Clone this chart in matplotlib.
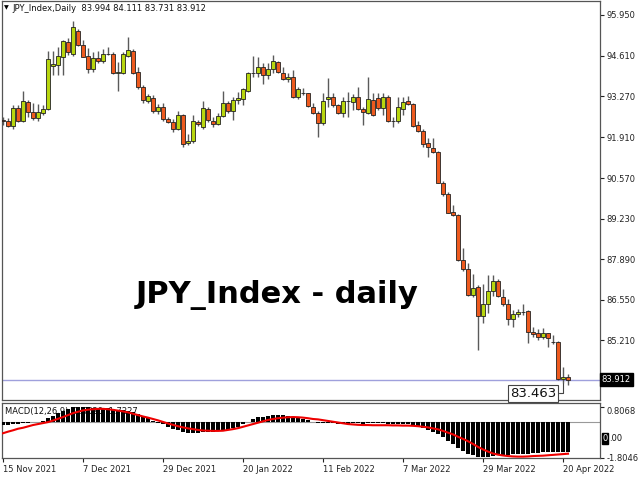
import numpy as np
import pandas as pd
import matplotlib
matplotlib.use("Agg")
from matplotlib import pyplot as plt

# daily OHLC, 15 Nov 2021 .. 21 Apr 2022 (business days)
opens = [92.485, 92.462, 92.287, 92.881, 92.462, 93.079, 92.749, 92.551, 92.716, 92.848,
         94.267, 94.310, 94.574, 95.059, 94.663, 95.432, 94.960, 94.587, 94.168, 94.531,
         94.432, 94.670, 94.663, 94.036, 94.046, 94.607, 94.772, 94.069, 93.564, 93.122,
         93.201, 92.772, 92.904, 92.508, 92.409, 92.178, 92.640, 91.716, 91.802, 92.419,
         92.264, 92.858, 92.462, 92.343, 92.617, 93.056, 92.792, 93.135, 93.188, 93.452,
         94.050, 94.046, 94.224, 93.980, 94.158, 94.389, 94.046, 93.828, 93.894, 93.234,
         93.390, 93.366, 92.924, 92.726, 92.396, 93.168, 93.234, 92.980, 92.726, 93.125,
         93.069, 93.254, 92.838, 92.726, 93.145, 93.201, 92.871, 93.234, 92.465, 92.462,
         92.838, 93.112, 93.013, 92.310, 92.132, 91.716, 91.551, 91.419, 90.416, 90.027,
         89.439, 89.360, 87.849, 87.568, 86.694, 86.964, 86.030, 86.423, 86.835, 87.182,
         86.634, 86.413, 85.928, 86.083, 86.140, 86.192, 85.499, 85.446, 85.314, 85.446,
         85.170, 85.169, 83.928, 83.994]
highs = [92.584, 92.541, 92.980, 92.970, 93.452, 93.145, 93.036, 93.013, 92.970, 94.772,
         94.772, 94.884, 95.125, 95.191, 95.762, 95.478, 95.125, 94.861, 94.739, 94.772,
         94.818, 94.904, 94.739, 94.409, 94.739, 95.224, 94.818, 94.234, 93.640, 93.333,
         93.310, 93.003, 93.056, 92.574, 92.508, 92.792, 92.683, 92.023, 92.650, 92.485,
         93.122, 92.904, 92.574, 92.726, 93.442, 93.122, 93.254, 93.409, 93.541, 94.069,
         94.607, 94.554, 94.356, 94.356, 94.640, 94.442, 94.244, 94.026, 94.135, 93.584,
         93.541, 93.386, 93.056, 92.792, 93.386, 93.861, 93.366, 93.013, 93.254, 93.419,
         93.343, 93.584, 92.924, 93.914, 93.366, 93.386, 93.386, 93.310, 92.594, 93.254,
         93.254, 93.277, 93.036, 92.452, 92.178, 91.881, 91.891, 91.462, 90.482, 90.109,
         89.680, 89.383, 88.251, 87.776, 87.403, 87.024, 87.073, 87.380, 87.360, 87.228,
         86.898, 86.568, 86.215, 86.238, 86.413, 86.215, 85.664, 85.598, 85.611, 85.466,
         85.400, 85.180, 84.344, 84.111]
lows = [92.320, 92.244, 92.188, 92.435, 92.419, 92.574, 92.485, 92.462, 92.660, 92.815,
        93.980, 93.980, 93.980, 94.620, 94.597, 94.937, 94.554, 94.036, 94.079, 94.356,
        94.376, 94.630, 94.003, 93.452, 94.003, 94.574, 94.003, 93.508, 93.036, 93.056,
        92.726, 92.683, 92.462, 92.376, 92.099, 92.155, 91.604, 91.660, 91.736, 92.287,
        92.178, 92.429, 92.264, 92.320, 92.574, 92.706, 92.485, 93.013, 92.980, 93.409,
        93.914, 93.914, 93.673, 93.828, 94.046, 94.026, 93.805, 93.749, 93.201, 93.168,
        93.300, 92.904, 92.683, 91.934, 92.320, 92.924, 92.924, 92.683, 92.574, 92.574,
        92.815, 92.815, 92.320, 92.683, 92.617, 92.815, 92.650, 92.429, 92.264, 92.376,
        92.650, 92.980, 92.264, 92.089, 91.594, 91.264, 91.386, 90.396, 89.977, 89.406,
        89.317, 87.832, 87.512, 86.667, 86.654, 84.895, 85.776, 86.126, 86.677, 86.634,
        86.347, 85.727, 85.664, 85.974, 86.050, 85.136, 85.314, 85.225, 85.248, 84.984,
        85.093, 83.905, 83.816, 83.731]
closes = [92.452, 92.297, 92.881, 92.452, 93.122, 92.749, 92.551, 92.749, 92.848, 94.498,
          94.333, 94.597, 95.092, 94.729, 95.554, 94.960, 94.574, 94.168, 94.531, 94.432,
          94.653, 94.660, 94.020, 94.079, 94.663, 94.795, 94.036, 93.574, 93.135, 93.287,
          92.782, 92.904, 92.508, 92.419, 92.178, 92.640, 91.693, 91.802, 92.462, 92.353,
          92.871, 92.485, 92.343, 92.617, 93.056, 92.792, 93.135, 93.211, 93.498, 94.046,
          94.040, 94.224, 93.960, 94.158, 94.442, 94.059, 93.828, 93.914, 93.234, 93.498,
          93.385, 92.947, 92.726, 92.396, 93.122, 93.234, 92.980, 92.726, 93.122, 93.120,
          93.234, 92.838, 92.759, 93.168, 92.650, 92.871, 93.234, 92.462, 92.460, 92.904,
          93.089, 93.013, 92.303, 92.132, 91.693, 91.584, 91.419, 90.416, 90.027, 89.426,
          89.360, 87.849, 87.568, 86.694, 86.931, 86.030, 86.423, 86.835, 87.182, 86.677,
          86.413, 85.928, 86.083, 86.139, 86.135, 85.499, 85.423, 85.314, 85.446, 85.281,
          85.165, 83.928, 84.014, 83.912]

# MACD(12,26,9): main as histogram, signal as red line
macd_main = [-0.14, -0.14, -0.11, -0.09, -0.04, -0.03, 0.02, 0.04, 0.07, 0.22,
             0.33, 0.46, 0.59, 0.67, 0.77, 0.81, 0.80, 0.77, 0.74, 0.72,
             0.72, 0.71, 0.67, 0.61, 0.61, 0.60, 0.54, 0.43, 0.30, 0.20,
             0.09, -0.01, -0.11, -0.22, -0.32, -0.37, -0.48, -0.53, -0.53, -0.53,
             -0.50, -0.48, -0.48, -0.45, -0.40, -0.37, -0.30, -0.22, -0.11, 0.04,
             0.17, 0.25, 0.28, 0.33, 0.38, 0.38, 0.36, 0.34, 0.28, 0.22,
             0.17, 0.12, 0.04, -0.04, -0.04, -0.04, -0.06, -0.09, -0.09, -0.09,
             -0.06, -0.06, -0.08, -0.06, -0.06, -0.06, -0.05, -0.09, -0.11, -0.11,
             -0.09, -0.09, -0.14, -0.22, -0.30, -0.40, -0.50, -0.62, -0.77, -0.94,
             -1.09, -1.31, -1.48, -1.63, -1.70, -1.76, -1.80, -1.77, -1.73, -1.70,
             -1.69, -1.67, -1.65, -1.62, -1.60, -1.60, -1.59, -1.57, -1.54, -1.52,
             -1.50, -1.53, -1.52, -1.50]
macd_signal = [-0.56, -0.48, -0.41, -0.33, -0.28, -0.21, -0.14, -0.09, -0.04, 0.01,
               0.09, 0.18, 0.27, 0.37, 0.47, 0.54, 0.61, 0.65, 0.67, 0.69,
               0.69, 0.67, 0.64, 0.60, 0.56, 0.51, 0.44, 0.37, 0.30, 0.24,
               0.17, 0.10, 0.02, -0.06, -0.13, -0.20, -0.26, -0.31, -0.35, -0.39,
               -0.42, -0.43, -0.44, -0.44, -0.43, -0.39, -0.35, -0.30, -0.23, -0.16,
               -0.09, -0.02, 0.05, 0.12, 0.17, 0.21, 0.24, 0.26, 0.27, 0.26,
               0.24, 0.21, 0.17, 0.15, 0.11, 0.07, 0.03, -0.01, -0.05, -0.09,
               -0.11, -0.13, -0.14, -0.14, -0.15, -0.15, -0.15, -0.15, -0.16, -0.16,
               -0.17, -0.17, -0.18, -0.20, -0.23, -0.26, -0.31, -0.36, -0.44, -0.53,
               -0.62, -0.74, -0.85, -0.97, -1.11, -1.26, -1.39, -1.50, -1.60, -1.66,
               -1.70, -1.73, -1.75, -1.76, -1.76, -1.75, -1.73, -1.72, -1.71, -1.69,
               -1.67, -1.65, -1.63, -1.61]

price_ticks = [95.950, 94.610, 93.270, 91.910, 90.570, 89.230, 87.890, 86.550, 85.210]
macd_ticks = [0.8068, -1.8046]
date_labels = ["15 Nov 2021", "7 Dec 2021", "29 Dec 2021", "20 Jan 2022",
               "11 Feb 2022", "7 Mar 2022", "29 Mar 2022", "20 Apr 2022"]
last_price = 83.912
note_price = 83.463

UP = "#b8d60e"
DOWN = "#ee5a1e"
SMALL = 6

dates = pd.bdate_range("2021-11-15", periods=len(closes))
idx = np.arange(len(closes))
o = np.array(opens); h = np.array(highs); l = np.array(lows); c = np.array(closes)
up = c >= o

fig = plt.figure(figsize=(6.4, 4.8), dpi=100)
ax = fig.add_axes([2 / 640, 80 / 480, 598 / 640, 399 / 480])
ax2 = fig.add_axes([2 / 640, 22 / 480, 598 / 640, 55 / 480], sharex=ax)

# candles
ax.vlines(idx, l, h, color="#5a5a5a", lw=1, zorder=2)
body_lo = np.minimum(o, c)
body_h = np.maximum(np.abs(c - o), 0.004)
ax.bar(idx, body_h, bottom=body_lo, width=0.62,
       color=np.where(up, UP, DOWN), edgecolor="#222222", linewidth=0.6, zorder=3)

ax.axhline(last_price, color="#9fa0dc", lw=1, zorder=1)
ax.set_xlim(-0.2, 119.4)
ax.set_ylim(83.245, 96.412)

ax.yaxis.tick_right()
ax.set_yticks(price_ticks)
ax.set_yticklabels([f"{t:.3f}" for t in price_ticks])
ax.tick_params(axis="y", direction="out", length=3, pad=1.5, labelsize=SMALL,
               colors="#222222")
ax.tick_params(axis="x", bottom=False, labelbottom=False)
ax.text(1.003, (last_price - 83.245) / (96.412 - 83.245), f"{last_price:.3f}",
        transform=ax.transAxes, ha="left", va="center", fontsize=SMALL, color="white",
        bbox=dict(boxstyle="square,pad=0.25", fc="black", ec="black"))

# header
ax.text(0.004, 0.982, "\u25bc", transform=ax.transAxes, fontsize=4.5, va="center", ha="left")
ax.text(0.018, 0.982, "JPY_Index,Daily  83.994 84.111 83.731 83.912",
        transform=ax.transAxes, fontsize=SMALL, va="center", ha="left", color="#111111")

ax.text(0.46, 0.262, "JPY_Index - daily", transform=ax.transAxes, ha="center",
        va="center", fontsize=22, fontweight="bold", color="black")

ax.annotate(f"{note_price:.3f}", xy=(112, l[112]), xytext=(106.0, 83.47),
            fontsize=9.5, ha="center", va="center", color="#111111",
            bbox=dict(boxstyle="square,pad=0.15", fc="white", ec="#444444", lw=0.8),
            arrowprops=dict(arrowstyle="-", color="#444444", lw=0.8,
                            connectionstyle="angle,angleA=0,angleB=90,rad=0",
                            shrinkA=0, shrinkB=0),
            annotation_clip=False, zorder=6)

# MACD panel
ax2.text(0.005, 0.84, "MACD(12,26,9) -1.5620 -1.7227", transform=ax2.transAxes,
         fontsize=SMALL, va="center", ha="left", color="#111111", zorder=1)
ax2.axhline(0, color="#999999", lw=0.8, zorder=2)
ax2.bar(idx, macd_main, width=0.62, color="black", zorder=3)
ax2.plot(idx, macd_signal, color="#ee0000", lw=1.5, zorder=4)
ax2.set_ylim(-1.83, 0.99)
ax2.yaxis.tick_right()
ax2.set_yticks(macd_ticks)
ax2.set_yticklabels([f"{t:.4f}" for t in macd_ticks])
ax2.tick_params(axis="y", direction="out", length=3, pad=1.5, labelsize=SMALL,
                colors="#222222")
ylab = ax2.get_yticklabels()
ylab[0].set_va("top")
ax2.text(1.004, 0.35, "0", transform=ax2.transAxes, fontsize=SMALL, color="white",
         va="center", ha="left", bbox=dict(boxstyle="square,pad=0.1", fc="black", ec="black"))
ax2.text(1.016, 0.35, ".00", transform=ax2.transAxes, fontsize=SMALL, color="#111111",
         va="center", ha="left")

tick_pos = [int(np.where(dates == pd.to_datetime(d, format="%d %b %Y"))[0][0])
            for d in date_labels]
ax2.set_xticks(tick_pos)
ax2.set_xticklabels(date_labels)
ax2.tick_params(axis="x", direction="out", length=3, pad=2, labelsize=SMALL,
                colors="#222222")
for lab in ax2.get_xticklabels():
    lab.set_ha("left")

for a in (ax, ax2):
    for s in a.spines.values():
        s.set_color("#555555")
        s.set_linewidth(0.9)

fig.savefig("out.png", dpi=100)
